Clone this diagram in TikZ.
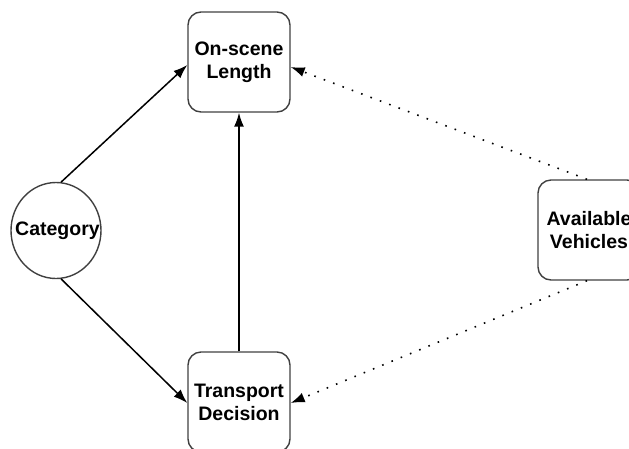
\documentclass[tikz,border=0pt]{standalone}
\usepackage{fontspec}
\setmainfont{Liberation Sans}
\usetikzlibrary{arrows.meta,shapes.geometric}
\begin{document}
\begin{tikzpicture}[x=1pt,y=-1pt,
  lbl/.style={align=center, inner sep=0pt, font=\fontsize{19.5}{23}\selectfont\bfseries},
  box/.style={lbl, draw=black!75, line width=1.4pt, rounded corners=13pt, minimum width=102pt, minimum height=100pt},
  catnode/.style={ellipse, inner sep=0pt, draw=black!75, line width=1.4pt, minimum width=90pt, minimum height=96pt},
  solidarrow/.style={line width=1.5pt, -{Latex[length=14pt,width=10pt]}},
  dotarrow/.style={line width=1.6pt, dash pattern=on 1.6pt off 8.4pt, -{Latex[length=14pt,width=10pt]}}
]
\useasboundingbox (0,0) rectangle (629,448);
\node[box] (onscene) at (239,62) {On-scene\\Length};
\node[box] (transport) at (239,402) {Transport\\Decision};
\node[box] (avail) at (589,230) {Available\\Vehicles};
\node[catnode] (cat) at (56,230.5) {};
\node[lbl] (catlabel) at (57.5,231) {Category};
\draw[solidarrow] (cat.84) -- ([yshift=-3pt]onscene.west);
\draw[solidarrow] (cat.-84) -- ([yshift=-1pt]transport.west);
\draw[solidarrow] (transport.north) -- (onscene.south);
\draw[dotarrow] ([xshift=-2pt]avail.north) -- ([yshift=-5pt]onscene.east);
\draw[dotarrow] ([xshift=-2pt]avail.south) -- ([yshift=-1pt]transport.east);
\end{tikzpicture}
\end{document}
